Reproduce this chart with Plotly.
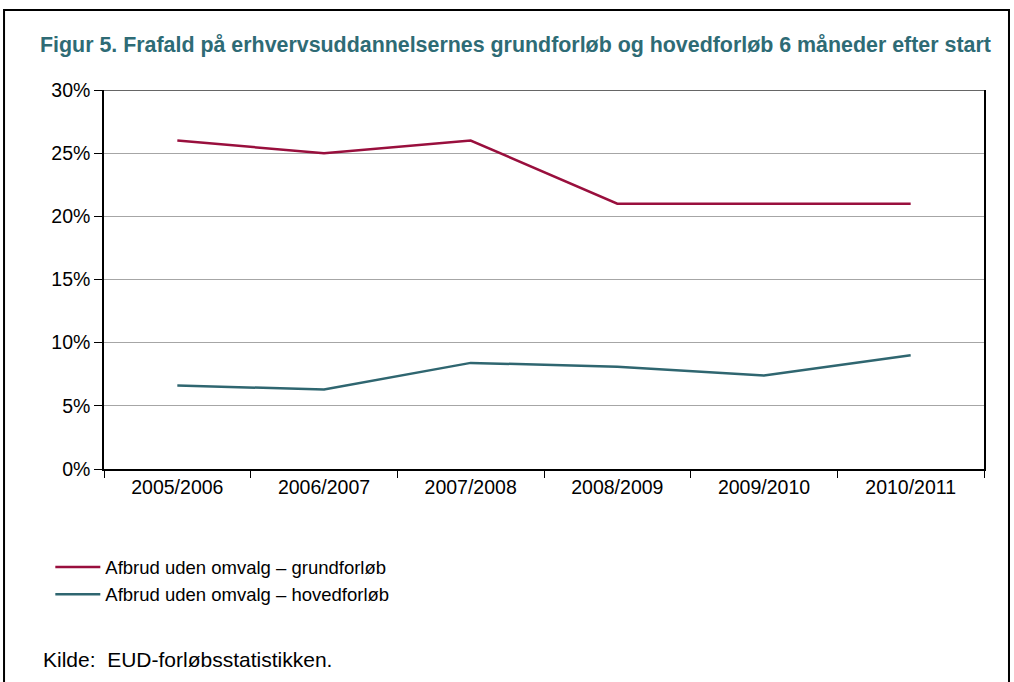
import plotly.graph_objects as go

categories = ["2005/2006", "2006/2007", "2007/2008", "2008/2009", "2009/2010", "2010/2011"]
grundforloeb = [26.0, 25.0, 26.0, 21.0, 21.0, 21.0]
hovedforloeb = [6.6, 6.3, 8.4, 8.1, 7.4, 9.0]
series_names = ["Afbrud uden omvalg – grundforløb", "Afbrud uden omvalg – hovedforløb"]
y_ticks = [0, 5, 10, 15, 20, 25, 30]
y_tick_labels = ["0%", "5%", "10%", "15%", "20%", "25%", "30%"]

RED = "#990F3D"
TEAL = "#2F6670"
FONT = "Liberation Sans, Arial, sans-serif"

fig = go.Figure()
fig.add_trace(go.Scatter(x=categories, y=grundforloeb, mode="lines", name=series_names[0],
                         line=dict(color=RED, width=2.5)))
fig.add_trace(go.Scatter(x=categories, y=hovedforloeb, mode="lines", name=series_names[1],
                         line=dict(color=TEAL, width=2.5)))

fig.update_layout(
    width=1014, height=682,
    margin=dict(l=104, r=30, t=90, b=213),
    paper_bgcolor="white", plot_bgcolor="white",
    font=dict(family=FONT, size=19.5, color="black"),
    showlegend=True,
    legend=dict(x=-0.061, y=-0.21, xanchor="left", yanchor="top",
                font=dict(size=18.5), tracegroupgap=0, itemwidth=45,
                bgcolor="rgba(0,0,0,0)"),
    title=dict(text="<b>Figur 5. Frafald på erhvervsuddannelsernes grundforløb og hovedforløb 6 måneder efter start</b>",
               x=40 / 1014, xanchor="left", y=1 - 45 / 682, yanchor="middle",
               font=dict(family=FONT, size=21.4, color="#2E6B75")),
)

fig.update_xaxes(
    type="category", range=[-0.5, 5.5],
    showline=True, linecolor="black", linewidth=1.5,
    ticks="outside", ticklen=7, tickcolor="black", tickson="boundaries",
    showgrid=False, tickfont=dict(size=19.5),
)
fig.update_yaxes(
    range=[0, 30], tickvals=y_ticks, ticktext=y_tick_labels,
    showline=True, linecolor="black", linewidth=1.5, mirror=True,
    ticks="outside", ticklen=8, tickcolor="black",
    showgrid=True, gridcolor="#A6A6A6", gridwidth=1,
    tickfont=dict(size=19.5), zeroline=False,
)

# top edge of plot area (darker grey)
fig.add_shape(type="line", xref="paper", yref="y", x0=0, x1=1, y0=30, y1=30,
              line=dict(color="#666666", width=2))
# figure frame
fig.add_shape(type="path", xref="paper", yref="paper",
              path="M -0.1136,-0.6 L -0.1136,1.211 L 1.0284,1.211 L 1.0284,-0.6",
              line=dict(color="black", width=2))

fig.add_annotation(text="Kilde:  EUD-forløbsstatistikken.", xref="paper", yref="paper",
                   x=(41 - 104) / 880, y=(469 - 659) / 379, xanchor="left", yanchor="middle",
                   showarrow=False, font=dict(size=21, family=FONT))

fig.write_html("out.html", config={"displayModeBar": False},
               post_script="document.body.style.margin='0';")
